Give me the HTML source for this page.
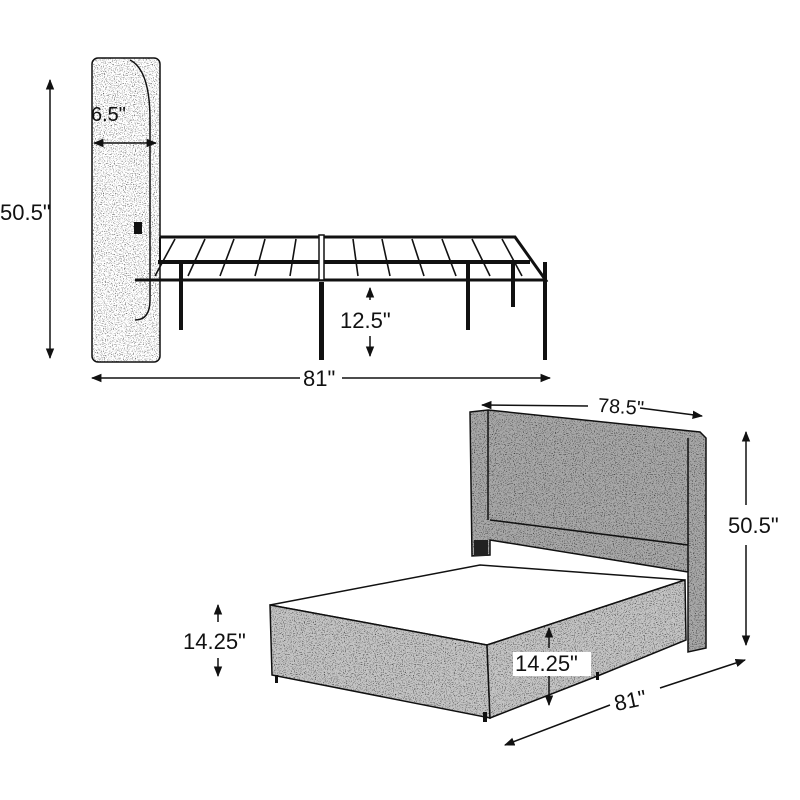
<!DOCTYPE html>
<html><head><meta charset="utf-8"><style>
html,body{margin:0;padding:0;background:#fff}
svg{display:block}
text{font-family:"Liberation Sans",sans-serif;fill:#111}
</style></head><body>
<svg width="800" height="800" viewBox="0 0 800 800" xmlns="http://www.w3.org/2000/svg">
<defs>
<filter id="tex" x="0" y="0" width="100%" height="100%">
<feTurbulence type="fractalNoise" baseFrequency="0.9" numOctaves="2" seed="3" result="n"/>
<feColorMatrix in="n" type="matrix" values="0 0 0 0 0  0 0 0 0 0  0 0 0 0 0  0 0 0 -2.4 1.35" result="a"/>
<feComposite in="a" in2="SourceGraphic" operator="in"/>
</filter>
<filter id="texl" x="0" y="0" width="100%" height="100%">
<feTurbulence type="fractalNoise" baseFrequency="0.9" numOctaves="2" seed="7" result="n"/>
<feColorMatrix in="n" type="matrix" values="0 0 0 0 0  0 0 0 0 0  0 0 0 0 0  0 0 0 -2.6 1.2" result="a"/>
<feComposite in="a" in2="SourceGraphic" operator="in"/>
</filter>
<marker id="ar" viewBox="0 0 10 10" refX="9" refY="5" markerWidth="7" markerHeight="7" orient="auto-start-reverse"><path d="M0,1 L10,5 L0,9 z" fill="#111"/></marker>
</defs>

<!-- TOP: side view -->
<g stroke="#111" stroke-width="1.5" fill="none">
<rect x="92" y="58" width="68" height="304" rx="6" fill="#fff"/>
<rect x="92" y="58" width="68" height="304" rx="6" fill="#fff" filter="url(#texl)" stroke="none"/>
<path d="M130,60 Q150,70 150,120 L150,300 Q150,320 135,320"/>
</g>
<g stroke="#111" fill="none">
<polyline points="160,237 515,237 547,282" stroke-width="3"/>
<line x1="160" y1="237" x2="160" y2="262" stroke-width="2"/>
<line x1="158" y1="262" x2="530" y2="262" stroke-width="4"/>
<line x1="135" y1="280" x2="547" y2="280" stroke-width="3"/>
<g stroke-width="1.6">
<line x1="155" y1="276" x2="175" y2="239"/><line x1="188" y1="276" x2="205" y2="239"/>
<line x1="220" y1="276" x2="234" y2="239"/><line x1="255" y1="276" x2="265" y2="239"/>
<line x1="290" y1="276" x2="296" y2="239"/>
<line x1="353" y1="239" x2="358" y2="276"/><line x1="382" y1="239" x2="390" y2="276"/>
<line x1="412" y1="239" x2="424" y2="276"/><line x1="442" y1="239" x2="456" y2="276"/>
<line x1="472" y1="239" x2="490" y2="276"/><line x1="502" y1="239" x2="522" y2="276"/>
</g>
<rect x="319" y="235" width="5" height="45" fill="#fff" stroke-width="1.5"/>
</g>
<g fill="#111">
<rect x="179" y="262" width="4" height="68"/>
<rect x="319" y="282" width="5" height="78"/>
<rect x="466" y="262" width="4" height="68"/>
<rect x="511" y="262" width="4" height="45"/>
<rect x="543" y="262" width="4" height="98"/>
<rect x="134" y="222" width="8" height="12"/>
</g>
<g stroke="#111" stroke-width="1.5" marker-start="url(#ar)" marker-end="url(#ar)">
<line x1="50" y1="80" x2="50" y2="358"/>
<line x1="94" y1="143" x2="156" y2="143"/>
<line x1="370" y1="288" x2="370" y2="300" marker-end="none"/>
<line x1="370" y1="336" x2="370" y2="356" marker-start="none"/>
<line x1="92" y1="378" x2="300" y2="378" marker-end="none"/>
<line x1="342" y1="378" x2="550" y2="378" marker-start="none"/>
</g>
<text x="0" y="220" font-size="22">50.5"</text>
<text x="91" y="121" font-size="20">6.5"</text>
<text x="340" y="328" font-size="22">12.5"</text>
<text x="303" y="386" font-size="22">81"</text>

<!-- BOTTOM: iso view -->
<g stroke="#111" stroke-width="1.5">
<path d="M470,412 L488,410 L700,432 L706,438 L706,648 L688,652 L688,572 L490,540 L490,555 L472,556 Z" fill="#a8a8a8"/>
<path d="M470,412 L488,410 L700,432 L706,438 L706,648 L688,652 L688,572 L490,540 L490,555 L472,556 Z" fill="#fff" filter="url(#texl)" stroke="none"/>
<path d="M488,410 L488,520 M688,438 L688,572 M490,520 L688,545" fill="none"/>
<path d="M270,605 L480,565 L685,580 L487,645 Z" fill="#fff"/>
<path d="M270,605 L487,645 L490,718 L272,675 Z" fill="#c4c4c4"/>
<path d="M487,645 L685,580 L686,640 L600,675 L490,718 Z" fill="#c4c4c4"/>
<path d="M270,605 L487,645 L490,718 L272,675 Z M487,645 L685,580 L686,640 L600,675 L490,718 Z" fill="#fff" filter="url(#texl)" stroke="none"/>
</g>
<g fill="#111">
<rect x="275" y="675" width="3" height="8"/>
<rect x="483" y="712" width="4" height="10"/>
<rect x="596" y="672" width="3" height="8"/>
<rect x="474" y="540" width="14" height="16" fill="#222"/>
</g>
<g stroke="#111" stroke-width="1.5" marker-start="url(#ar)" marker-end="url(#ar)">
<line x1="482" y1="405" x2="588" y2="406" marker-end="none"/>
<line x1="640" y1="408" x2="702" y2="416" marker-start="none"/>
<line x1="746" y1="432" x2="746" y2="505" marker-end="none"/>
<line x1="746" y1="545" x2="746" y2="645" marker-start="none"/>
<line x1="218" y1="605" x2="218" y2="622" marker-end="none"/>
<line x1="218" y1="658" x2="218" y2="676" marker-start="none"/>
<line x1="549" y1="628" x2="549" y2="648" marker-end="none"/>
<line x1="549" y1="676" x2="549" y2="705" marker-start="none"/>
<line x1="505" y1="745" x2="610" y2="705" marker-end="none"/>
<line x1="660" y1="688" x2="745" y2="660" marker-start="none"/>
</g>
<text x="598" y="413" font-size="20" transform="rotate(4 615 405)">78.5"</text>
<text x="728" y="533" font-size="22">50.5"</text>
<text x="183" y="649" font-size="22">14.25"</text>
<rect x="513" y="652" width="78" height="24" fill="#fff"/>
<text x="515" y="671" font-size="22">14.25"</text>
<text x="614" y="708" font-size="22" transform="rotate(-12 630 700)">81"</text>
</svg>
</body></html>
